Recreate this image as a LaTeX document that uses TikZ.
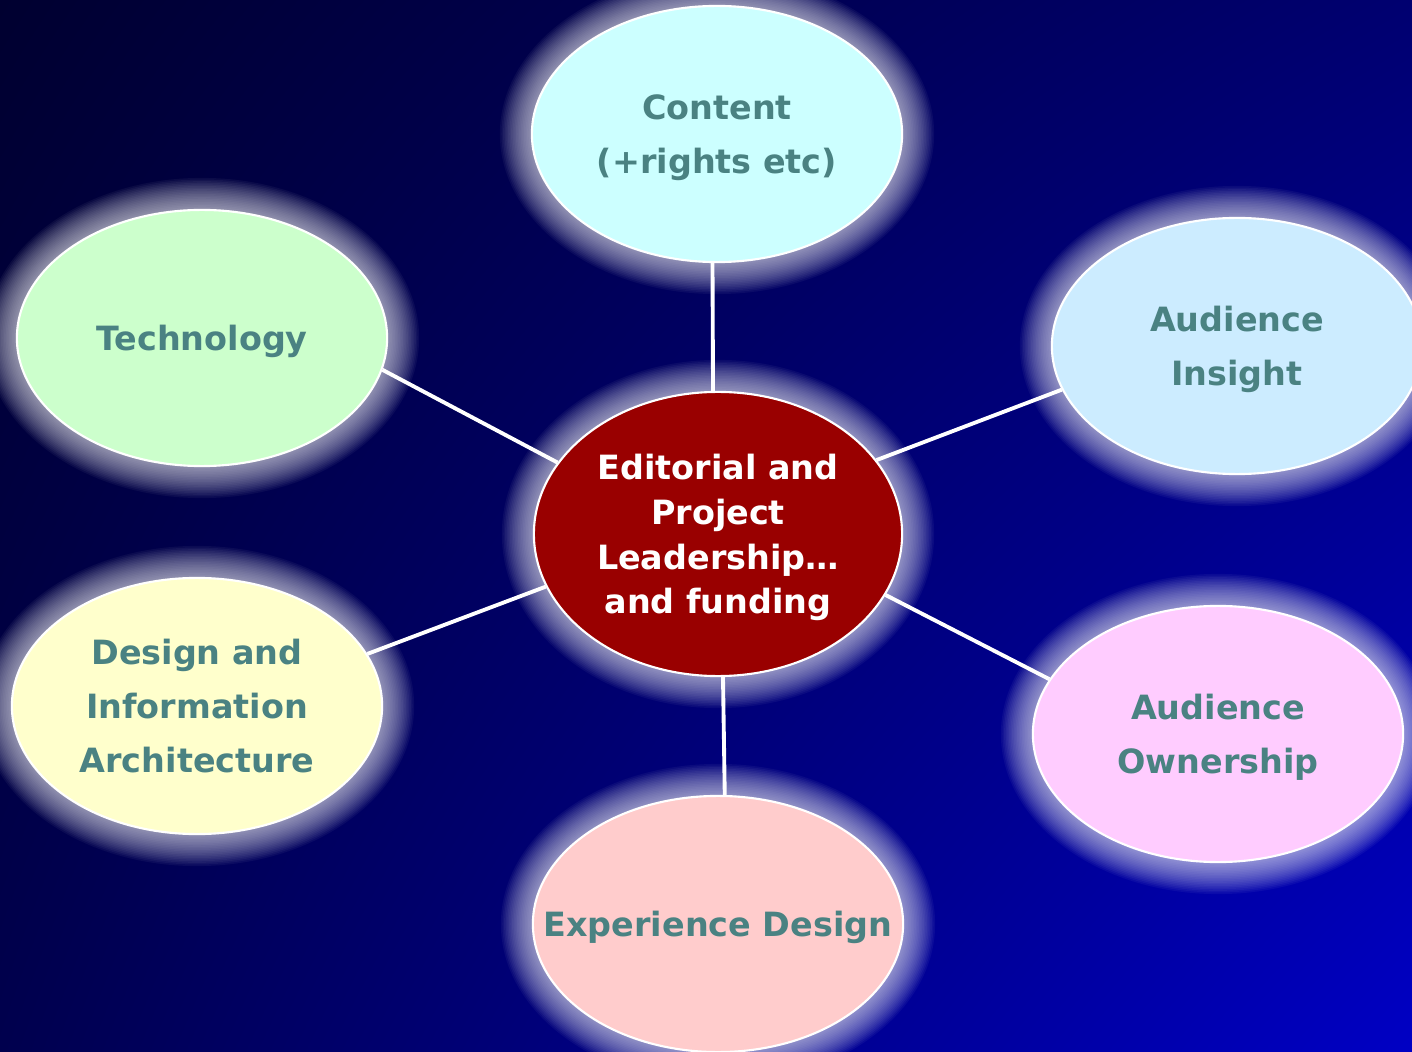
\documentclass[tikz,border=0pt]{standalone}
\usepackage{fontspec}
\setmainfont{DejaVu Sans}
\usepackage{tikz}
\usetikzlibrary{shapes.geometric,backgrounds,shadings}
\definecolor{ink}{HTML}{4A8282}
\definecolor{deep}{HTML}{000030}
\definecolor{navy}{HTML}{000070}
\definecolor{navyl}{HTML}{00004E}
\definecolor{royal}{HTML}{0000C4}
\definecolor{leadred}{HTML}{990000}
\definecolor{cyanish}{HTML}{CCFFFF}
\definecolor{mint}{HTML}{CCFFCC}
\definecolor{sky}{HTML}{CCECFF}
\definecolor{cream}{HTML}{FFFFCC}
\definecolor{pinkish}{HTML}{FFCCFF}
\definecolor{rose}{HTML}{FFCCCC}
\tikzset{
  blob/.style={ellipse, draw=white, line width=0.6pt, minimum width=3.7cm,
    minimum height=2.56cm, inner sep=0pt, align=center, text=ink, text depth=-2pt,
    font=\bfseries\fontsize{9.5}{15.3}\selectfont},
  hub/.style={blob, fill=leadred, text=white, minimum width=3.68cm,
    minimum height=2.84cm, text depth=-4pt, font=\bfseries\fontsize{9.5}{12.7}\selectfont},
  spoke/.style={draw=white, line width=1.1pt},
  halo/.style={fill=white, opacity=0.045},
}

\begin{document}
\begin{tikzpicture}[x=0.01cm, y=-0.01cm]
  \useasboundingbox (0,0) rectangle (1412,1052);

  \node[hub] (lead) at (718,534) {Editorial and\\Project\\Leadership\ldots\\and funding};
  \node[blob, fill=cyanish] (content) at (717,134) {Content\\(+rights etc)};
  \node[blob, fill=mint] (tech) at (202,338) {Technology};
  \node[blob, fill=sky] (insight) at (1237,346) {Audience\\Insight};
  \node[blob, fill=cream] (design) at (197,706) {Design and\\Information\\Architecture};
  \node[blob, fill=pinkish] (owner) at (1218,734) {Audience\\Ownership};
  \node[blob, fill=rose, inner xsep=-15pt] (exper) at (718,924) {Experience Design};

  % backdrop and the soft glow round each ellipse
  \begin{scope}[on background layer]
    \shade[upper left=deep, upper right=navy, lower left=navyl, lower right=royal]
      (0,0) rectangle (1412,1052);
    \foreach \n in {content,tech,insight,design,owner,exper}
      \foreach \k in {1,...,20}
        \fill[halo] (\n.center) ellipse [x radius={1.85cm+\k*0.16mm}, y radius={1.28cm+\k*0.16mm}];
    \foreach \k in {1,...,20}
      \fill[halo] (lead.center) ellipse [x radius={1.84cm+\k*0.16mm}, y radius={1.42cm+\k*0.16mm}];
  \end{scope}

  \draw[spoke] (lead.92) -- (content.268);
  \draw[spoke] (lead.156.5) -- (tech.-10.6);
  \draw[spoke] (lead.25.7) -- (insight.194.7);
  \draw[spoke] (lead.197.3) -- (design.17.7);
  \draw[spoke] (lead.-20) -- (owner.162.8);
  \draw[spoke] (lead.-88) -- (exper.87.8);
\end{tikzpicture}
\end{document}
